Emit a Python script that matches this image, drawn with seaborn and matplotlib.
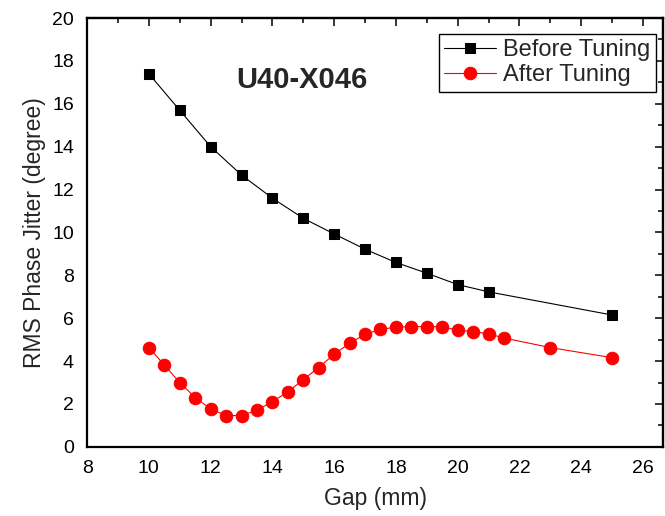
import numpy as np
import pandas as pd
import matplotlib
matplotlib.use("Agg")
import matplotlib.pyplot as plt
import seaborn as sns
from matplotlib.ticker import MultipleLocator

before_gap = [10, 11, 12, 13, 14, 15, 16, 17, 18, 19, 20, 21, 25]
before_jitter = [17.4, 15.7, 14.0, 12.68, 11.6, 10.66, 9.93, 9.22, 8.6, 8.1, 7.57, 7.23, 6.15]

after_gap = [10, 10.5, 11, 11.5, 12, 12.5, 13, 13.5, 14, 14.5, 15, 15.5, 16, 16.5,
             17, 17.5, 18, 18.5, 19, 19.5, 20, 20.5, 21, 21.5, 23, 25]
after_jitter = [4.63, 3.82, 3.0, 2.3, 1.77, 1.46, 1.46, 1.71, 2.11, 2.56, 3.14, 3.7, 4.32, 4.83,
                5.25, 5.48, 5.58, 5.61, 5.61, 5.6, 5.44, 5.38, 5.27, 5.08, 4.63, 4.16]

series_names = ["Before Tuning", "After Tuning"]
title_text = "U40-X046"

sns.set_style("white")
plt.rcParams['font.family'] = ['Liberation Sans', 'DejaVu Sans']

fig = plt.figure(figsize=(6.65, 5.16), dpi=100)
ax = fig.add_axes([0.131, 0.134, 0.866, 0.831])

sns.lineplot(x=before_gap, y=before_jitter, ax=ax, color='black', marker='s',
             markersize=7, linewidth=0.8, markeredgecolor='black', label=series_names[0])
sns.lineplot(x=after_gap, y=after_jitter, ax=ax, color='red', marker='o',
             markersize=9, linewidth=0.8, markeredgecolor='red', label=series_names[1])

ax.set_xlim(8, 26.65)
ax.set_ylim(0, 20)
ax.xaxis.set_major_locator(MultipleLocator(2))
ax.xaxis.set_minor_locator(MultipleLocator(1))
ax.yaxis.set_major_locator(MultipleLocator(2))
ax.yaxis.set_minor_locator(MultipleLocator(1))

for s in ax.spines.values():
    s.set_visible(True)
    s.set_color('black')
    s.set_linewidth(1.6)

ax.tick_params(which='both', direction='out', top=False, right=False, colors='black',
               width=1.3, labelsize=14)
ax.tick_params(which='major', length=6)
ax.tick_params(which='minor', length=3.5)

secx = ax.secondary_xaxis('top')
secx.xaxis.set_major_locator(MultipleLocator(2))
secx.xaxis.set_minor_locator(MultipleLocator(1))
secx.tick_params(which='both', direction='in', labeltop=False, width=1.3)
secx.tick_params(which='major', length=6)
secx.tick_params(which='minor', length=3.5)
secx.spines['top'].set_linewidth(1.6)

secy = ax.secondary_yaxis('right')
secy.yaxis.set_major_locator(MultipleLocator(2))
secy.yaxis.set_minor_locator(MultipleLocator(1))
secy.tick_params(which='both', direction='in', labelright=False, width=1.3)
secy.tick_params(which='major', length=6)
secy.tick_params(which='minor', length=3.5)
secy.spines['right'].set_linewidth(1.6)

ax.set_xlabel("Gap (mm)", fontsize=16.5, labelpad=7)
ax.set_ylabel("RMS Phase Jitter (degree)", fontsize=16.5, labelpad=4)

ax.text(14.95, 17.1, title_text, fontsize=21, fontweight='bold', ha='center', va='center')

leg = ax.legend(loc='upper right', fontsize=17, frameon=True, fancybox=False,
                edgecolor='black', framealpha=1, borderpad=0.22, handlelength=2.2,
                handletextpad=0.3, labelspacing=0.15, borderaxespad=0.3,
                bbox_to_anchor=(1.0, 0.98))
leg.get_frame().set_linewidth(1.0)

fig.savefig("out.png", dpi=100)
